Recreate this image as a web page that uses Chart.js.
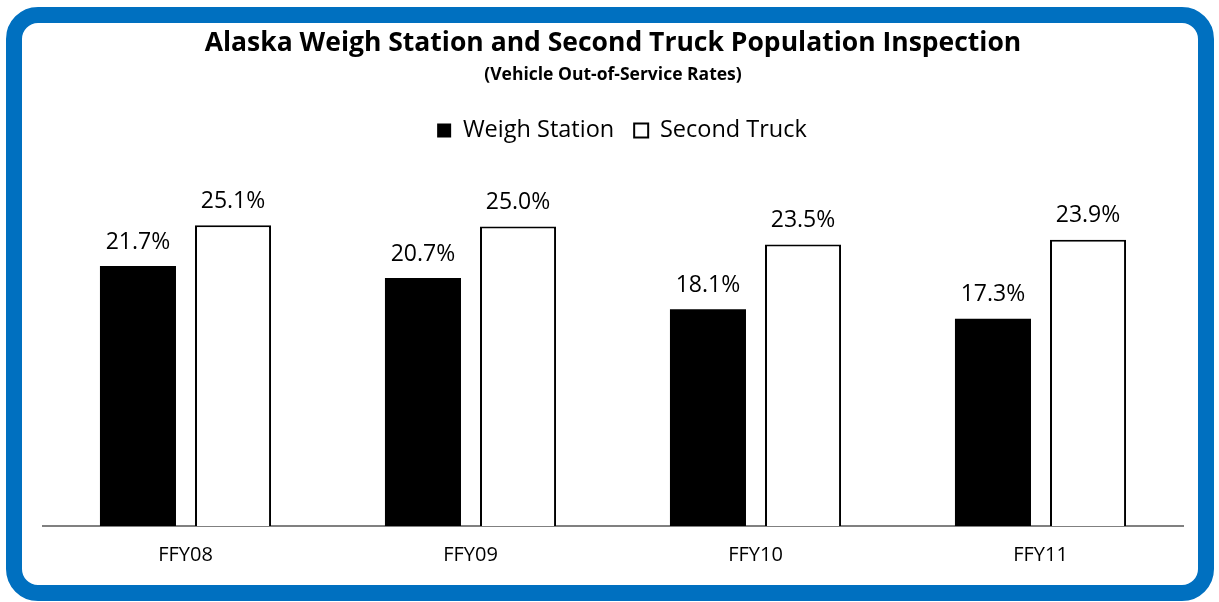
<!DOCTYPE html>
<html>
<head>
<meta charset="utf-8">
<script src="https://cdn.jsdelivr.net/npm/chart.js@4.4.1/dist/chart.umd.min.js"></script>
<style>
    html, body { margin: 0; padding: 0; background: #fff; }
    body { width: 1219px; height: 602px; position: relative; overflow: hidden; }
    .frame {
        position: absolute;
        left: 6px; top: 7px;
        width: 1176px; height: 562px;
        border: 16px solid #0070c0;
        border-radius: 32px;
        background: #fff;
    }
    #chart { position: absolute; left: 0; top: 0; }
</style>
</head>
<body>
<div class="frame"></div>
<canvas id="chart" width="1219" height="602"></canvas>
<script>
// Chart data
const categories = ['FFY08', 'FFY09', 'FFY10', 'FFY11'];
const weighStation = [21.7, 20.7, 18.1, 17.3];
const secondTruck = [25.1, 25.0, 23.5, 23.9];

const FONT = '"Open Sans", "DejaVu Sans", sans-serif';

// Draws the value above every bar
const valueLabels = {
    id: 'valueLabels',
    afterDatasetsDraw(chart) {
        const ctx = chart.ctx;
        ctx.save();
        ctx.font = '23px ' + FONT;
        ctx.fillStyle = '#000';
        ctx.textAlign = 'center';
        ctx.textBaseline = 'middle';
        chart.data.datasets.forEach((ds, i) => {
            const meta = chart.getDatasetMeta(i);
            meta.data.forEach((bar, j) => {
                ctx.fillText(ds.data[j].toFixed(1) + '%', bar.x, bar.y - 24);
            });
        });
        ctx.restore();
    }
};

// Nudge the legend a bit to the right (trailing padding skews centering)
const legendNudge = {
    id: 'legendNudge',
    afterLayout(chart) {
        if (chart.legend) {
            chart.legend.left += 9;
            chart.legend.right += 9;
        }
    }
};

document.addEventListener('DOMContentLoaded', function () {
    new Chart(document.getElementById('chart'), {
        type: 'bar',
        data: {
            labels: categories,
            datasets: [{
                label: 'Weigh Station',
                data: weighStation,
                backgroundColor: '#000',
                borderColor: '#000',
                borderWidth: 0
            }, {
                label: 'Second Truck',
                data: secondTruck,
                backgroundColor: '#fff',
                borderColor: '#000',
                borderWidth: 2,
                borderSkipped: 'bottom'
            }]
        },
        options: {
            responsive: false,
            animation: false,
            datasets: {
                bar: {
                    categoryPercentage: 0.667,
                    barPercentage: 0.8
                }
            },
            layout: {
                padding: { top: 28, left: 43, right: 36, bottom: 18 }
            },
            plugins: {
                title: {
                    display: true,
                    text: 'Alaska Weigh Station and Second Truck Population Inspection',
                    color: '#000',
                    font: { family: FONT, size: 26.5, weight: 'bold' },
                    padding: { top: 0, bottom: 4.7 }
                },
                subtitle: {
                    display: true,
                    text: '(Vehicle Out-of-Service Rates)',
                    color: '#000',
                    font: { family: FONT, size: 17.5, weight: 'bold' },
                    padding: { top: 0, bottom: 13.25 }
                },
                legend: {
                    display: true,
                    labels: {
                        color: '#000',
                        font: { family: FONT, size: 23.5 },
                        boxWidth: 14,
                        boxHeight: 14,
                        padding: 20
                    }
                },
                tooltip: { enabled: false }
            },
            scales: {
                x: {
                    grid: { display: false, drawTicks: false },
                    border: { display: true, color: '#808080', width: 2 },
                    ticks: {
                        color: '#000',
                        padding: 17,
                        font: { family: FONT, size: 20 }
                    }
                },
                y: {
                    display: false,
                    min: 0,
                    max: 31.2
                }
            }
        },
        plugins: [valueLabels, legendNudge]
    });
});
</script>
</body>
</html>
